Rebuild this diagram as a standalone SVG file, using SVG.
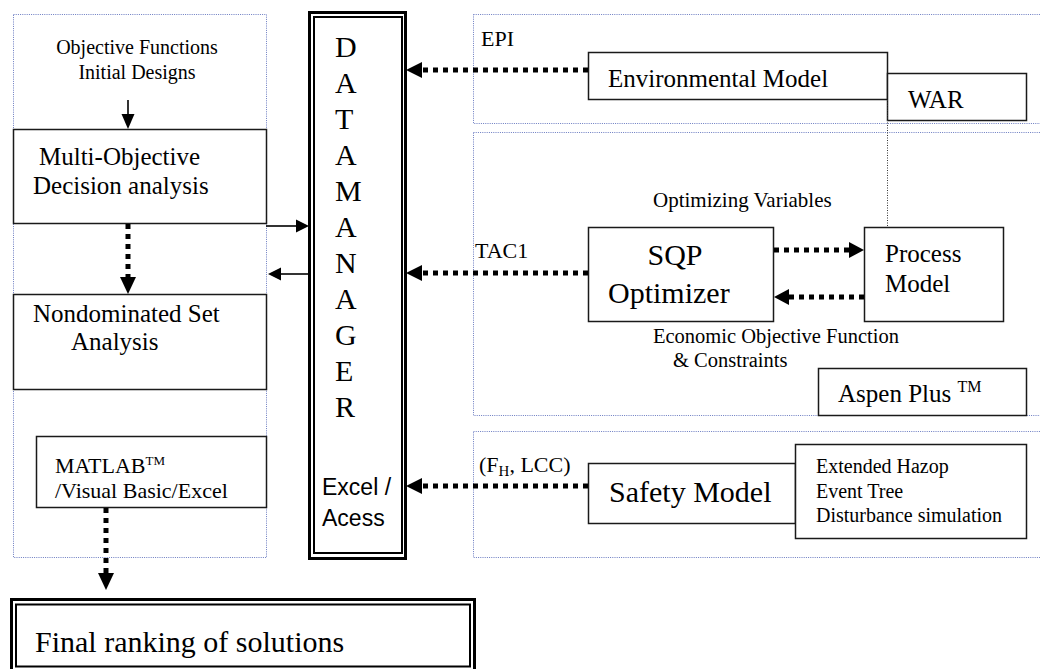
<svg xmlns="http://www.w3.org/2000/svg" width="1040" height="669" viewBox="0 0 1040 669">
<style>
.panel{fill:none;stroke:#6a7bc0;stroke-width:1;stroke-dasharray:1 1.2}
.box{fill:#fff;stroke:#1a1a1a;stroke-width:1.5}
.t{font-family:"Liberation Serif","Times New Roman",serif;fill:#000}
.s{font-family:"Liberation Sans",Arial,sans-serif;fill:#000}
.dot{fill:none;stroke:#000;stroke-width:5;stroke-dasharray:5 5}
.thin{fill:none;stroke:#000;stroke-width:1.6}
.head{fill:#000}
</style>
<rect width="1040" height="669" fill="#fff"/>
<g id="panels">
<rect class="panel" x="13.5" y="14.5" width="253" height="543"/>
<rect class="panel" x="473.5" y="14.5" width="580" height="109"/>
<rect class="panel" x="473.5" y="132.5" width="580" height="283"/>
<rect class="panel" x="473.5" y="431.5" width="580" height="126"/>
</g>
<g id="objective-text">
<text class="t" x="137" y="54" font-size="20" text-anchor="middle">Objective Functions</text>
<text class="t" x="137" y="79" font-size="20" text-anchor="middle">Initial Designs</text>
</g>
<g id="multi-objective">
<rect class="box" x="13.5" y="129.5" width="253" height="94"/>
<text class="t" x="39" y="165" font-size="25">Multi-Objective</text>
<text class="t" x="33" y="194" font-size="25">Decision analysis</text>
</g>
<g id="nondominated">
<rect class="box" x="13.5" y="294.5" width="253" height="95"/>
<text class="t" x="33" y="322" font-size="25">Nondominated Set</text>
<text class="t" x="71" y="350" font-size="25">Analysis</text>
</g>
<g id="matlab">
<rect class="box" x="36.5" y="436.5" width="230" height="71"/>
<text class="t" x="55" y="473" font-size="22">MATLAB<tspan font-size="13" dy="-8">TM</tspan></text>
<text class="t" x="55" y="498" font-size="22">/Visual Basic/Excel</text>
</g>
<g id="final-ranking">
<rect x="11.5" y="599.5" width="463" height="80" fill="#fff" stroke="#000" stroke-width="3"/>
<rect x="16" y="604.5" width="454" height="62" fill="none" stroke="#000" stroke-width="2"/>
<text class="t" x="35" y="652" font-size="30">Final ranking of solutions</text>
</g>
<g id="data-manager">
<rect x="309.5" y="12.5" width="96" height="546" fill="#fff" stroke="#000" stroke-width="3"/>
<rect x="314" y="17" width="88" height="536" fill="none" stroke="#000" stroke-width="2"/>
<g class="t" font-size="30">
<text x="335" y="57">D</text>
<text x="335" y="93">A</text>
<text x="335" y="129">T</text>
<text x="335" y="165">A</text>
<text x="335" y="201">M</text>
<text x="335" y="237">A</text>
<text x="335" y="273">N</text>
<text x="335" y="309">A</text>
<text x="335" y="345">G</text>
<text x="335" y="381">E</text>
<text x="335" y="417">R</text>
</g>
<text class="s" x="322" y="495" font-size="23">Excel /</text>
<text class="s" x="322" y="526" font-size="23">Acess</text>
</g>
<g id="environmental-model">
<rect class="box" x="588.5" y="52.5" width="299" height="47"/>
<text class="t" x="608" y="87" font-size="25">Environmental Model</text>
</g>
<g id="war">
<rect class="box" x="887.5" y="73.5" width="139" height="47"/>
<text class="t" x="908" y="108" font-size="25">WAR</text>
</g>
<g id="sqp-optimizer">
<rect class="box" x="588.5" y="227.5" width="185" height="94"/>
<text class="t" x="675" y="265" font-size="30" text-anchor="middle">SQP</text>
<text class="t" x="608" y="303" font-size="30">Optimizer</text>
</g>
<g id="process-model">
<rect class="box" x="864.5" y="227.5" width="139" height="94"/>
<text class="t" x="885" y="262" font-size="25">Process</text>
<text class="t" x="885" y="292" font-size="25">Model</text>
</g>
<g id="aspen-plus">
<rect class="box" x="818.5" y="368.5" width="208" height="47"/>
<text class="t" x="838" y="402" font-size="25">Aspen Plus <tspan font-size="16" dy="-10">TM</tspan></text>
</g>
<g id="safety-model">
<rect class="box" x="588.5" y="463.5" width="207" height="60"/>
<text class="t" x="609" y="502" font-size="30">Safety Model</text>
</g>
<g id="safety-methods">
<rect class="box" x="795.5" y="444.5" width="231" height="94"/>
<text class="t" x="816" y="473" font-size="20">Extended Hazop</text>
<text class="t" x="816" y="498" font-size="20">Event Tree</text>
<text class="t" x="816" y="522" font-size="20">Disturbance simulation</text>
</g>
<g id="labels">
<text class="t" x="481" y="46" font-size="22">EPI</text>
<text class="t" x="475" y="258" font-size="22">TAC1</text>
<text class="t" x="479" y="472" font-size="22">(F<tspan font-size="15" dy="4">H</tspan><tspan dy="-4">, LCC)</tspan></text>
<text class="t" x="653" y="207" font-size="21">Optimizing Variables</text>
<text class="t" x="653" y="343" font-size="20.5">Economic Objective Function</text>
<text class="t" x="673" y="367" font-size="20.5">&amp; Constraints</text>
</g>
<g id="connectors">
<line x1="128" y1="100" x2="128" y2="115" class="thin"/>
<polygon class="head" points="121.5,114 134.5,114 128,129"/>
<line x1="128" y1="224" x2="128" y2="278" class="dot"/>
<polygon class="head" points="120,277 136,277 128,294"/>
<line x1="106" y1="508" x2="106" y2="574" class="dot"/>
<polygon class="head" points="98,573 114,573 106,590"/>
<line x1="266" y1="226" x2="297" y2="226" class="thin"/>
<polygon class="head" points="296,219.5 296,232.5 309,226"/>
<line x1="309" y1="274" x2="280" y2="274" class="thin"/>
<polygon class="head" points="281,267.5 281,280.5 268,274"/>
<line x1="588" y1="70" x2="421" y2="70" class="dot"/>
<polygon class="head" points="422,62 422,78 406,70"/>
<line x1="588" y1="273" x2="421" y2="273" class="dot"/>
<polygon class="head" points="422,265 422,281 406,273"/>
<line x1="588" y1="486" x2="421" y2="486" class="dot"/>
<polygon class="head" points="422,478 422,494 406,486"/>
<line x1="774" y1="250" x2="850" y2="250" class="dot"/>
<polygon class="head" points="849,242 849,258 864,250"/>
<line x1="864" y1="297" x2="788" y2="297" class="dot"/>
<polygon class="head" points="789,289 789,305 774,297"/>
<line x1="887.5" y1="100" x2="887.5" y2="227" fill="none" stroke="#333" stroke-width="1" stroke-dasharray="1 1.5"/>
</g>
</svg>
